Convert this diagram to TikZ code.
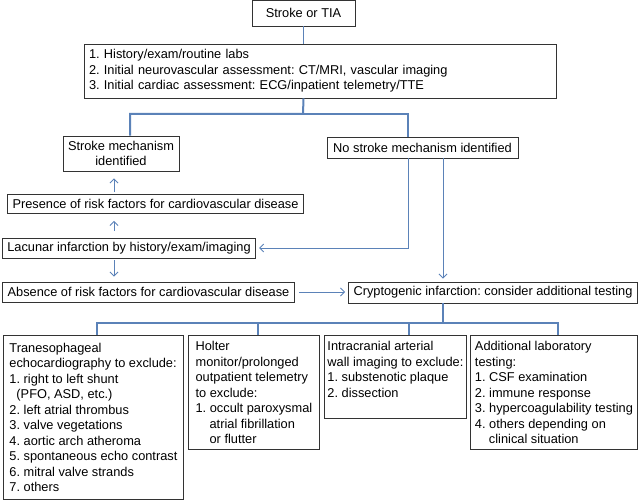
\documentclass[tikz,border=0pt]{standalone}
\usepackage{fontspec}
\setmainfont{Liberation Sans}
\usepackage{tikz}
\usetikzlibrary{arrows.meta,positioning,calc}
\definecolor{LinkBlue}{HTML}{5B82B8}
\definecolor{BoxGray}{HTML}{333333}
\frenchspacing

\begin{document}
\begin{tikzpicture}[x=1pt, y=-1pt,
  box/.style={draw=BoxGray, line width=0.9pt, inner xsep=5pt, inner ysep=2pt,
              font=\fontsize{12.8}{15.5}\selectfont, minimum width=#1},
  listbox/.style={box=#1, inner xsep=3pt, align=left, anchor=north west},
  branch/.style={line width=2pt, color=LinkBlue},
  link/.style={-{Straight Barb[length=4pt,width=8pt]}, line width=0.9pt, color=LinkBlue}
]
\useasboundingbox (0,0) rectangle (640,500);

% Entry and initial work-up
\node[box=103pt, minimum height=26pt] (tia) at (303.5,13) {Stroke or TIA};
\node[box=472pt, minimum height=54pt, text width=462pt, align=left] (assess) at (320,71)
  {1. History/exam/routine labs\\
   2. Initial neurovascular assessment: CT/MRI, vascular imaging\\
   3. Initial cardiac assessment: ECG/inpatient telemetry/TTE};
\draw[line width=0.9pt, color=LinkBlue] (tia) -- (tia |- assess.north);

% Mechanism found or not
\node[box=116pt, minimum height=35pt, align=center] (mech) at (121,153.5)
  {Stroke mechanism\\identified};
\node[box=191pt, minimum height=21pt] (nomech) at (422.5,147.5)
  {No stroke mechanism identified};
\coordinate (split1) at (303,114);
\draw[branch] (tia |- assess.south) -- (split1) -| ([xshift=9pt]mech.north);
\draw[branch] (split1) -| ([xshift=-14.5pt]nomech.north);

% Left column: lacunar work-up
\node[box=293pt, minimum height=19pt] (presence) at (155.5,204)
  {Presence of risk factors for cardiovascular disease};
\node[box=252pt, minimum height=20pt] (lacunar) at (129,248)
  {Lacunar infarction by history/exam/imaging};
\node[box=291pt, minimum height=20pt] (absence) at (148.5,292)
  {Absence of risk factors for cardiovascular disease};
\coordinate (lcol) at (114,0);
\draw[link, shorten <=2pt, shorten >=7pt] (presence.north -| lcol) -- (mech.south -| lcol);
\draw[link, shorten <=7pt, shorten >=7pt] (lacunar.north -| lcol) -- (presence.south -| lcol);
\draw[link, shorten <=2pt, shorten >=5pt] (lacunar.south -| lcol) -- (absence.north -| lcol);

% Cryptogenic path
\node[box=288pt, minimum height=21pt] (crypto) at (493,292.5)
  {Cryptogenic infarction: consider additional testing};
\draw[link, shorten >=3pt] ([xshift=-14.5pt]nomech.south) |- (lacunar.east);
\draw[link, shorten >=3pt] ([xshift=20.5pt]nomech.south) -- ([xshift=20.5pt]nomech.south |- crypto.north);
\draw[link, shorten <=4pt, shorten >=3pt] (absence.east) -- (absence.east -| crypto.west);

% Additional testing
\node[listbox=180pt, minimum height=164pt] (tee) at (3,335)
  {Tranesophageal\\
   echocardiography to exclude:\\
   1. right to left shunt\\
   \hspace*{7pt}(PFO, ASD, etc.)\\
   2. left atrial thrombus\\
   3. valve vegetations\\
   4. aortic arch atheroma\\
   5. spontaneous echo contrast\\
   6. mitral valve strands\\
   7. others};
\node[listbox=131pt, minimum height=114pt] (holter) at (188,335)
  {Holter\\
   monitor/prolonged\\
   outpatient telemetry\\
   to exclude:\\
   1. occult paroxysmal\\
   \hspace*{14pt}atrial fibrillation\\
   \hspace*{14pt}or flutter};
\node[listbox=141pt, minimum height=83pt] (wall) at (324,335)
  {Intracranial arterial\\
   wall imaging to exclude:\\
   1. substenotic plaque\\
   2. dissection\\ \mbox{}};
\node[listbox=167pt, minimum height=114pt] (lab) at (470,335)
  {Additional laboratory\\
   testing:\\
   1. CSF examination\\
   2. immune response\\
   3. hypercoagulability testing\\
   4. others depending on\\
   \hspace*{14pt}clinical situation};
\coordinate (split2) at (443,323);
\draw[branch] ([xshift=-50pt]crypto.south) -- (split2);
\draw[branch] ([xshift=4pt]tee.north) |- ([xshift=4.5pt]lab.north |- split2) -- ([xshift=4.5pt]lab.north);
\draw[branch] ([xshift=4.5pt]holter.north) -- ([xshift=4.5pt]holter.north |- split2);
\draw[branch] ([xshift=13.5pt]wall.north) -- ([xshift=13.5pt]wall.north |- split2);

\end{tikzpicture}
\end{document}
